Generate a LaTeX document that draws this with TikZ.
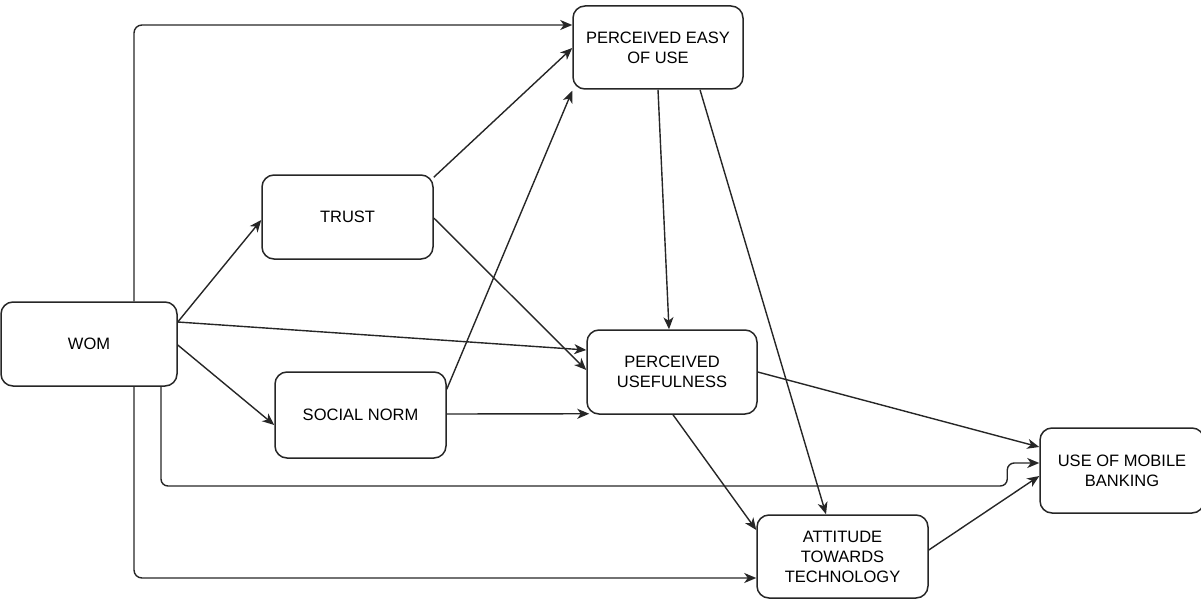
\documentclass[tikz,border=0pt]{standalone}
\usepackage{fontspec}
\setmainfont{Liberation Sans}
\usetikzlibrary{arrows.meta}
\begin{document}
\begin{tikzpicture}[x=1pt,y=-1pt,
  box/.style={draw=black!85, line width=1.5pt, rounded corners=12pt, fill=white,
    align=center, inner sep=0pt, font=\fontsize{16.5}{20}\selectfont},
  arr/.style={draw=black!85, line width=1.4pt, -{Stealth[length=12pt,width=10pt,inset=3.5pt]}}]
\useasboundingbox (0,0) rectangle (1201,599);
\node[box, minimum width=176pt, minimum height=84pt] (wom) at (89,344) {WOM};
\node[box, minimum width=171pt, minimum height=84pt] (trust) at (347.5,217) {TRUST};
\node[box, minimum width=171pt, minimum height=86pt] (sn) at (360.5,415) {SOCIAL NORM};
\node[box, minimum width=170pt, minimum height=83pt] (peou) at (658,47.5) {PERCEIVED EASY\\OF USE};
\node[box, minimum width=170pt, minimum height=84pt] (pu) at (672,372) {PERCEIVED\\USEFULNESS};
\node[box, minimum width=164pt, minimum height=85pt] (umb) at (1122,470.5) {USE OF MOBILE\\BANKING};
\node[box, minimum width=171pt, minimum height=83pt] (att) at (842.5,556.5) {ATTITUDE\\TOWARDS\\TECHNOLOGY};

\draw[arr, rounded corners=8pt] ([xshift=45pt]wom.north) |- ([yshift=22.5pt]peou.west);
\draw[arr, rounded corners=8pt] ([xshift=45pt]wom.south) |- ([yshift=-21.5pt]att.west);
\draw[arr, rounded corners=7pt] ([xshift=72pt]wom.south) |- ([xshift=-32pt,yshift=-15.5pt]umb.west)
   |- ([yshift=7.5pt]umb.west);
\draw[arr] ([yshift=22pt]wom.east) -- ([yshift=-3pt]trust.west);
\draw[arr] ([yshift=22pt]wom.east) -- ([yshift=22pt]pu.west);
\draw[arr] ([yshift=-1pt]wom.east) -- ([yshift=-10pt]sn.west);
\draw[arr] ([yshift=-3pt]trust.north east) -- ([yshift=-0.5pt]peou.west);
\draw[arr] ([yshift=-1pt]trust.east) -- ([yshift=2pt]pu.west);
\draw[arr] ([yshift=-18pt]sn.north east) -- ([yshift=-1pt]peou.south west);
\draw[arr] ([yshift=1pt]sn.east) -- ([xshift=3pt,yshift=1pt]pu.south west);
\draw[arr] (peou.south) -- ([xshift=-3pt]pu.north);
\draw[arr] ([xshift=42pt]peou.south) -- ([xshift=-16.5pt]att.north);
\draw[arr] (pu.east) -- ([yshift=23.5pt]umb.west);
\draw[arr] ([xshift=1pt]pu.south) -- ([yshift=26.5pt]att.west);
\draw[arr] ([yshift=6.5pt]att.east) -- ([yshift=-5.5pt]umb.west);
\end{tikzpicture}
\end{document}
